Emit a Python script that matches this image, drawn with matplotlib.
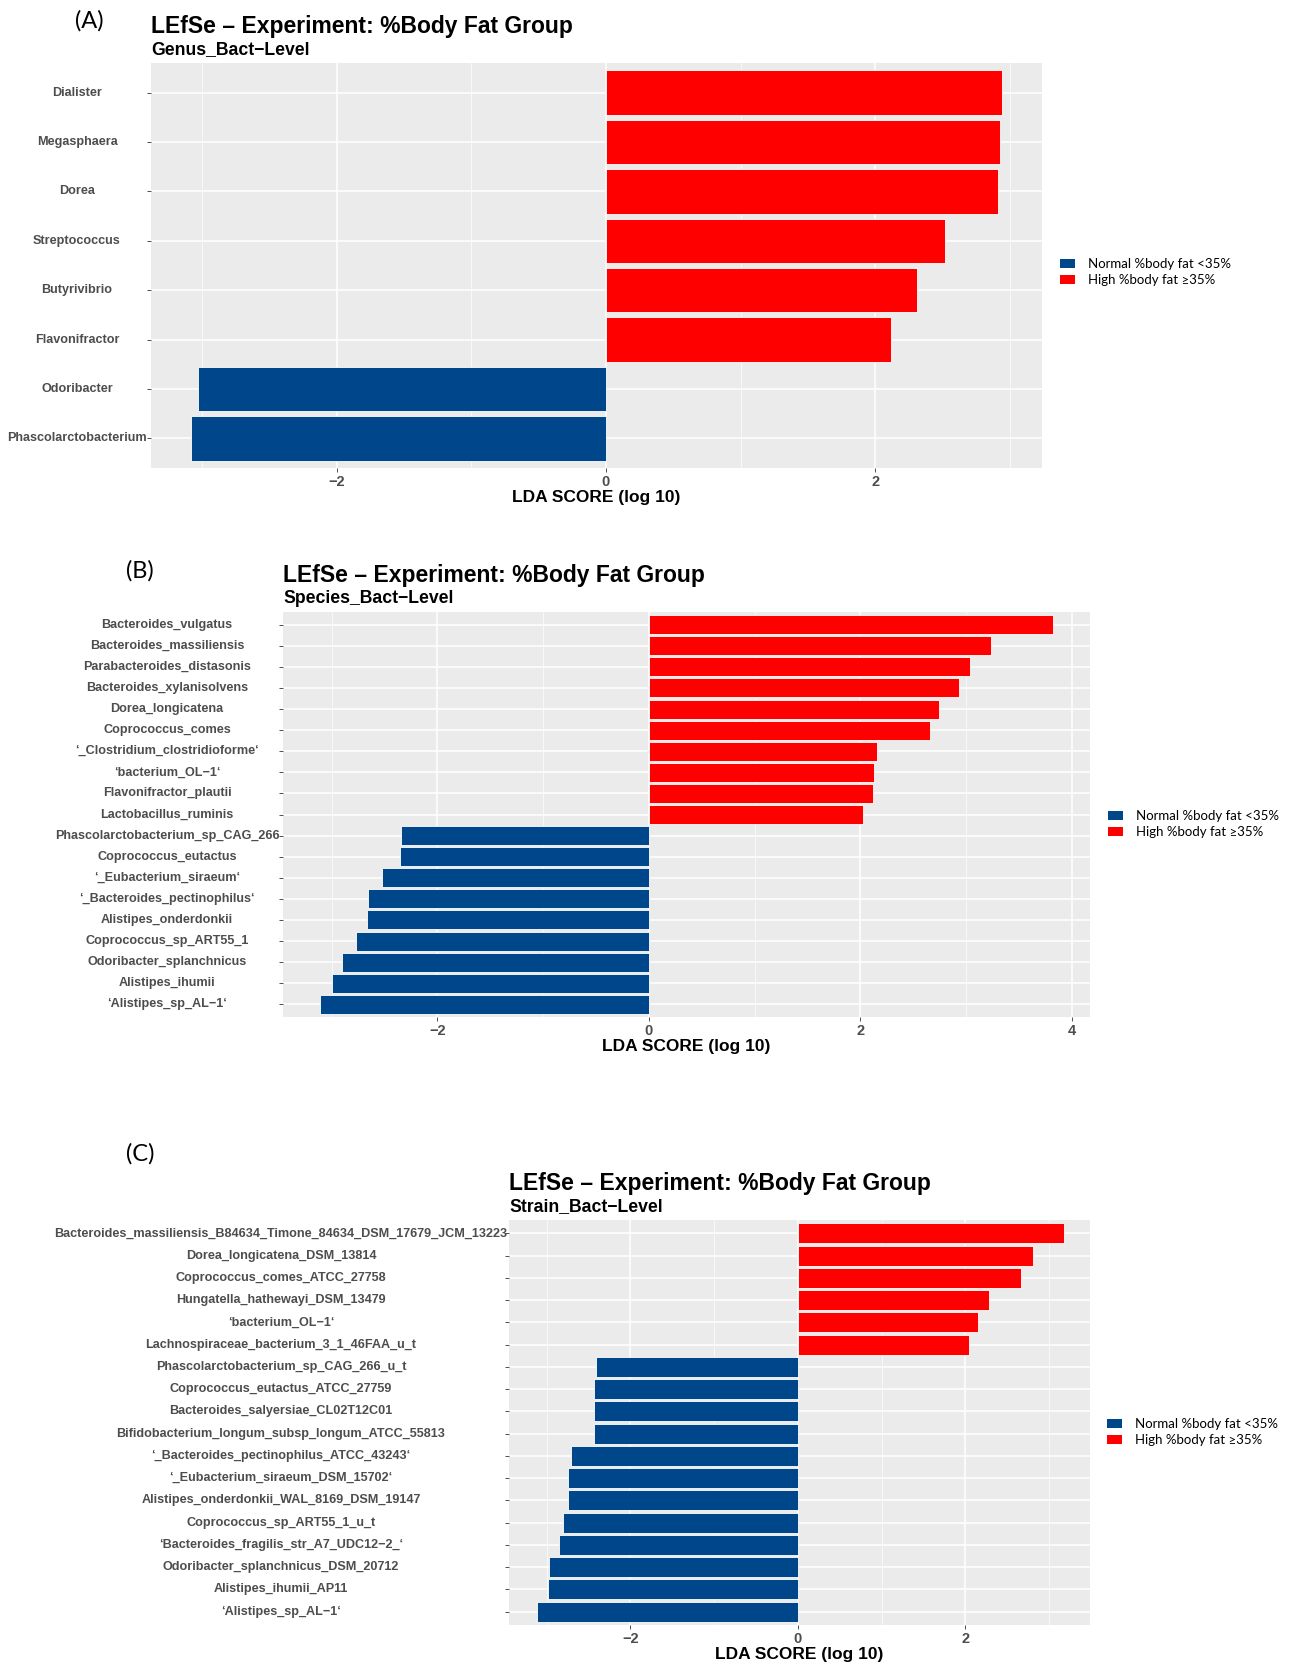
import matplotlib
matplotlib.use('Agg')
import matplotlib.pyplot as plt
from matplotlib.patches import Patch
from matplotlib.transforms import blended_transform_factory

plt.rcParams['font.family'] = ['Liberation Sans', 'DejaVu Sans']

W, H = 1294, 1666

# (A) genus level
genus_names = ['Dialister', 'Megasphaera', 'Dorea', 'Streptococcus', 'Butyrivibrio',
               'Flavonifractor', 'Odoribacter', 'Phascolarctobacterium']
genus_lda = [2.94, 2.93, 2.91, 2.52, 2.31, 2.12, -3.03, -3.08]

# (B) species level
species_names = ['Bacteroides_vulgatus', 'Bacteroides_massiliensis', 'Parabacteroides_distasonis',
                 'Bacteroides_xylanisolvens', 'Dorea_longicatena', 'Coprococcus_comes',
                 '\u2018_Clostridium_clostridioforme\u2018', '\u2018bacterium_OL\u22121\u2018',
                 'Flavonifractor_plautii', 'Lactobacillus_ruminis',
                 'Phascolarctobacterium_sp_CAG_266', 'Coprococcus_eutactus',
                 '\u2018_Eubacterium_siraeum\u2018', '\u2018_Bacteroides_pectinophilus\u2018',
                 'Alistipes_onderdonkii', 'Coprococcus_sp_ART55_1', 'Odoribacter_splanchnicus',
                 'Alistipes_ihumii', '\u2018Alistipes_sp_AL\u22121\u2018']
species_lda = [3.82, 3.23, 3.04, 2.93, 2.74, 2.66, 2.16, 2.13, 2.12, 2.02,
               -2.34, -2.35, -2.52, -2.66, -2.67, -2.77, -2.90, -3.00, -3.11]

# (C) strain level
strain_names = ['Bacteroides_massiliensis_B84634_Timone_84634_DSM_17679_JCM_13223',
                'Dorea_longicatena_DSM_13814', 'Coprococcus_comes_ATCC_27758',
                'Hungatella_hathewayi_DSM_13479', '\u2018bacterium_OL\u22121\u2018',
                'Lachnospiraceae_bacterium_3_1_46FAA_u_t', 'Phascolarctobacterium_sp_CAG_266_u_t',
                'Coprococcus_eutactus_ATCC_27759', 'Bacteroides_salyersiae_CL02T12C01',
                'Bifidobacterium_longum_subsp_longum_ATCC_55813',
                '\u2018_Bacteroides_pectinophilus_ATCC_43243\u2018',
                '\u2018_Eubacterium_siraeum_DSM_15702\u2018',
                'Alistipes_onderdonkii_WAL_8169_DSM_19147', 'Coprococcus_sp_ART55_1_u_t',
                '\u2018Bacteroides_fragilis_str_A7_UDC12\u22122_\u2018',
                'Odoribacter_splanchnicus_DSM_20712', 'Alistipes_ihumii_AP11',
                '\u2018Alistipes_sp_AL\u22121\u2018']
strain_lda = [3.18, 2.81, 2.67, 2.28, 2.15, 2.04, -2.41, -2.43, -2.43, -2.43,
              -2.71, -2.75, -2.75, -2.81, -2.85, -2.97, -2.98, -3.12]

group_labels = ['Normal %body fat <35%', 'High %body fat \u226535%']
NORMAL_COLOR = '#00468B'
HIGH_COLOR = '#FF0000'
LABEL_FONT = ['Liberation Sans Narrow', 'Liberation Sans', 'DejaVu Sans']
LEGEND_FONT = ['Lato', 'DejaVu Sans']


def px(x, y):
    return x / W, 1 - y / H


def lefse_panel(fig, box, names, scores, xlim, xticks, tag, tag_xy, level, label_cx, legend_xy):
    left, top, right, bottom = box
    ax = fig.add_axes([left / W, 1 - bottom / H, (right - left) / W, (bottom - top) / H])
    ax.set_facecolor('#EBEBEB')
    for s in ax.spines.values():
        s.set_visible(False)

    pos = list(range(len(names)))
    colors = [HIGH_COLOR if v > 0 else NORMAL_COLOR for v in scores]
    ax.barh(pos, scores, height=0.9, color=colors, edgecolor='white', linewidth=0.6, zorder=3)

    ax.set_xticks(xticks)
    ax.set_xticklabels(['\u2212%d' % -t if t < 0 else '%d' % t for t in xticks])
    ax.set_xticks([t + 1 for t in xticks] + [xticks[0] - 1], minor=True)
    ax.set_yticks(pos)
    ax.set_yticklabels([])
    ax.set_xlim(*xlim)
    ax.set_ylim(len(names) - 0.4, -0.6)
    ax.grid(which='major', color='white', linewidth=1.1, zorder=1)
    ax.grid(which='minor', axis='x', color='white', linewidth=0.5, zorder=1)
    ax.set_axisbelow(True)
    ax.tick_params(which='major', length=3, width=0.6, color='#333333',
                   labelsize=10.5, labelcolor='#4D4D4D', pad=2)
    ax.tick_params(which='minor', length=0)
    for t in ax.get_xticklabels():
        t.set_fontweight('bold')

    # category names, centred on a common column left of the panel
    trans = blended_transform_factory(fig.transFigure, ax.transData)
    for p, name in zip(pos, names):
        ax.text(label_cx / W, p, name, transform=trans, ha='center', va='center',
                family=LABEL_FONT, fontsize=9.1, fontweight='bold', color='#4D4D4D')

    ax.set_xlabel('LDA SCORE (log 10)', fontsize=12.5, fontweight='bold', labelpad=1)

    fig.text(*px(left, top - 30), 'LEfSe \u2013 Experiment: %Body Fat Group',
             fontsize=16.5, fontweight='bold', va='baseline')
    fig.text(*px(left, top - 9), level, fontsize=12.7, fontweight='bold', va='baseline')
    fig.text(*px(*tag_xy), tag, family=LEGEND_FONT, fontsize=17, ha='center', va='center')

    handles = [Patch(facecolor=NORMAL_COLOR, label=group_labels[0]),
               Patch(facecolor=HIGH_COLOR, label=group_labels[1])]
    fig.legend(handles=handles, loc='center left', bbox_to_anchor=px(*legend_xy),
               bbox_transform=fig.transFigure, frameon=False,
               prop=dict(family=LEGEND_FONT, size=9.5), handlelength=1.15, handleheight=0.72,
               handletextpad=0.95, labelspacing=0.3, borderpad=0, borderaxespad=0)
    return ax


fig = plt.figure(figsize=(W / 100, H / 100), dpi=100)

lefse_panel(fig, (151, 63, 1042, 468), genus_names, genus_lda, (-3.38, 3.24), [-2, 0, 2],
            '(A)', (89, 21), 'Genus_Bact\u2212Level', 77, (1060, 272))
lefse_panel(fig, (283, 612, 1090, 1017), species_names, species_lda, (-3.46, 4.17), [-2, 0, 2, 4],
            '(B)', (140, 571), 'Species_Bact\u2212Level', 167, (1108, 824))
lefse_panel(fig, (509, 1220, 1090, 1625), strain_names, strain_lda, (-3.45, 3.49), [-2, 0, 2],
            '(C)', (140, 1154), 'Strain_Bact\u2212Level', 281, (1107, 1432))

fig.savefig('out.png', dpi=100, facecolor='white')
